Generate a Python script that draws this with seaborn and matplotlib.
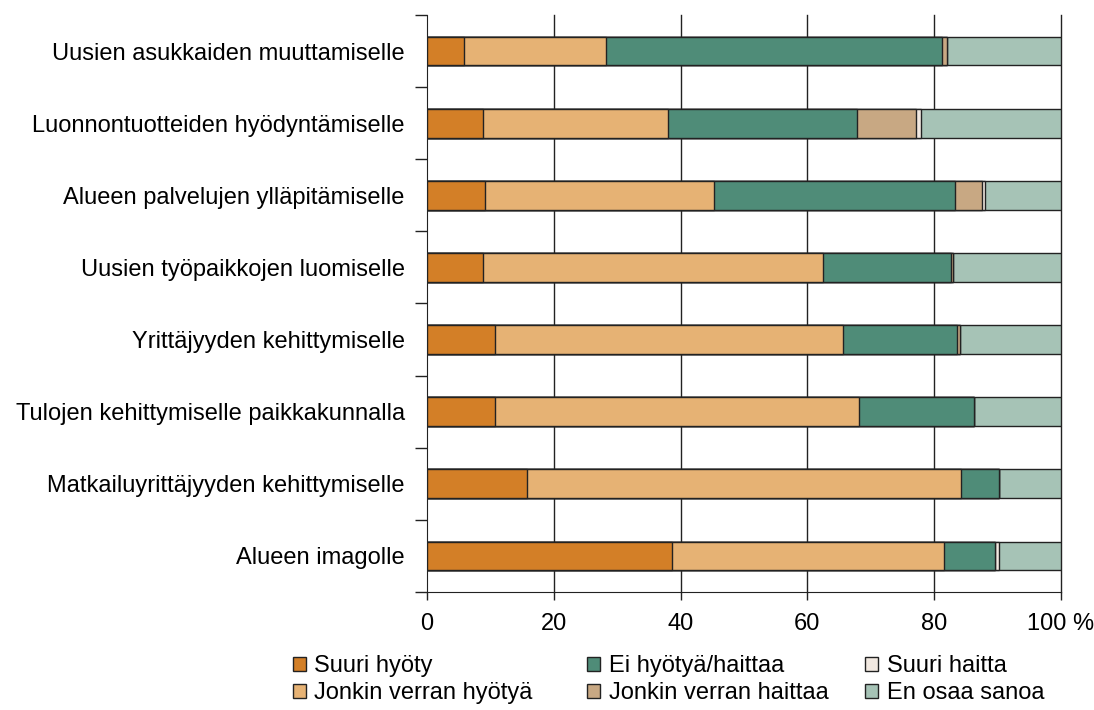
import numpy as np
import pandas as pd
import matplotlib
matplotlib.use('Agg')
import matplotlib.pyplot as plt
from matplotlib.patches import Patch
import seaborn as sns

categories = ['Uusien asukkaiden muuttamiselle',
              'Luonnontuotteiden hyödyntämiselle',
              'Alueen palvelujen ylläpitämiselle',
              'Uusien työpaikkojen luomiselle',
              'Yrittäjyyden kehittymiselle',
              'Tulojen kehittymiselle paikkakunnalla',
              'Matkailuyrittäjyyden kehittymiselle',
              'Alueen imagolle']

series_names = ['Suuri hyöty', 'Jonkin verran hyötyä', 'Ei hyötyä/haittaa',
                'Jonkin verran haittaa', 'Suuri haitta', 'En osaa sanoa']

suuri_hyoty = [5.8, 8.8, 9.2, 8.8, 10.8, 10.8, 15.7, 38.7]
jonkin_hyoty = [22.4, 29.2, 36.0, 53.7, 54.8, 57.4, 68.5, 42.9]
ei_hyotya = [53.1, 29.9, 38.1, 20.2, 18.0, 18.1, 6.0, 8.0]
jonkin_haittaa = [0.7, 9.2, 4.3, 0.3, 0.4, 0.0, 0.0, 0.0]
suuri_haitta = [0.0, 0.9, 0.4, 0.0, 0.0, 0.0, 0.0, 0.6]
en_osaa = [18.0, 22.0, 12.0, 17.0, 16.0, 13.7, 9.8, 9.8]

colors = ['#d37f27', '#e6b274', '#4f8c78', '#c8a883', '#f2e9e1', '#a6c3b6']

df = pd.DataFrame({'kohde': categories,
                   series_names[0]: suuri_hyoty,
                   series_names[1]: jonkin_hyoty,
                   series_names[2]: ei_hyotya,
                   series_names[3]: jonkin_haittaa,
                   series_names[4]: suuri_haitta,
                   series_names[5]: en_osaa})

# kumulatiiviset summat pinottuja palkkeja varten
cum = df[series_names].cumsum(axis=1)

plt.rcParams['font.family'] = ['Liberation Sans', 'DejaVu Sans']
fig = plt.figure(figsize=(10.94, 7.10), dpi=100)
ax = fig.add_axes([0.3903, 0.1662, 0.5795, 0.8127])

# piirretään suurimmasta pienimpään, jolloin edelliset jäävät alle
for i in range(len(series_names) - 1, -1, -1):
    sns.barplot(x=cum[series_names[i]], y=df['kohde'], orient='h',
                color=colors[i], edgecolor='#222222', linewidth=1.0,
                width=0.4, saturation=1, ax=ax, zorder=3)

ax.set_xlim(0, 100)
ax.set_ylim(7.5, -0.5)
ax.set_xticks([0, 20, 40, 60, 80, 100])
ax.set_xticklabels(['0', '20', '40', '60', '80', '100 %'], fontsize=17)
ax.set_yticks(range(len(categories)))
ax.set_yticklabels(categories, fontsize=17)
ax.set_yticks(np.arange(-0.5, 8.0, 1.0), minor=True)
ax.tick_params(axis='y', which='major', length=0, pad=16)
ax.tick_params(axis='y', which='minor', length=9, width=1, color='#222222')
ax.tick_params(axis='x', length=6, width=1, color='#222222', pad=9)
ax.set_xlabel('')
ax.set_ylabel('')

for v in [20, 40, 60, 80, 100]:
    ax.axvline(v, color='#222222', linewidth=1.0, zorder=1, clip_on=False)

ax.spines['top'].set_visible(False)
ax.spines['right'].set_visible(False)
ax.spines['left'].set_color('#222222')
ax.spines['bottom'].set_color('#222222')

# selite kolmessa sarakkeessa
handles = [Patch(facecolor=c, edgecolor='#222222', linewidth=1.0) for c in colors]
col_x = [0.268, 0.537, 0.791]
for k in range(3):
    leg = fig.legend(handles[2 * k:2 * k + 2], series_names[2 * k:2 * k + 2],
                     loc='upper left', bbox_to_anchor=(col_x[k], 0.077),
                     frameon=False, fontsize=17, handlelength=0.55,
                     handleheight=0.55, handletextpad=0.35, labelspacing=0.2,
                     borderpad=0, borderaxespad=0)

fig.savefig('out.png', dpi=100)
